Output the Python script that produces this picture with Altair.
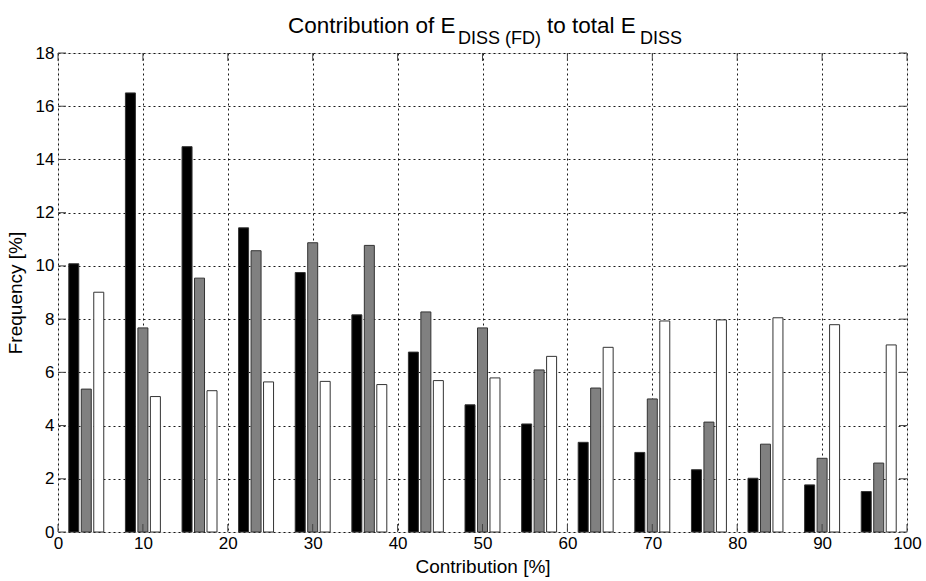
import altair as alt
import pandas as pd

# ---- data ----
bin_centers = [3.33, 10.0, 16.67, 23.33, 30.0, 36.67, 43.33, 50.0, 56.67,
               63.33, 70.0, 76.67, 83.33, 90.0, 96.67]
series_names = ["Series 1", "Series 2", "Series 3"]
s1 = [10.08, 16.5, 14.48, 11.43, 9.75, 8.16, 6.76, 4.78, 4.06, 3.37, 2.99, 2.34, 2.02, 1.77, 1.52]
s2 = [5.37, 7.67, 9.54, 10.57, 10.87, 10.77, 8.27, 7.67, 6.09, 5.41, 5.0, 4.13, 3.3, 2.77, 2.59]
s3 = [9.01, 5.09, 5.31, 5.64, 5.66, 5.54, 5.69, 5.79, 6.6, 6.94, 7.93, 7.97, 8.05, 7.79, 7.03]
x_ticks = [0, 10, 20, 30, 40, 50, 60, 70, 80, 90, 100]
y_ticks = [0, 2, 4, 6, 8, 10, 12, 14, 16, 18]

rows = []
for i, c in enumerate(bin_centers):
    for k, (name, vals) in enumerate(zip(series_names, [s1, s2, s3])):
        rows.append({"center": c, "series": name, "k": k, "value": vals[i]})
df = pd.DataFrame(rows)
xt = pd.DataFrame({"t": x_ticks})
yt = pd.DataFrame({"t": y_ticks})

FONT = "Liberation Sans"
W, H = 849, 479

xscale = alt.Scale(domain=[0, 100], nice=False, zero=False, padding=0)
yscale = alt.Scale(domain=[0, 18], nice=False, padding=0)

grid_axis = dict(grid=True, gridColor="#000000", gridDash=[2, 3], gridWidth=1,
                 gridOpacity=0.9, domain=False, ticks=False, labelFlush=False,
                 labelOverlap=False,
                 labelFont=FONT, labelFontSize=17, labelColor="#000000",
                 titleFont=FONT, titleFontSize=19, titleFontWeight="normal",
                 titleColor="#000000")

bars = alt.Chart(df).transform_calculate(
    xpos="datum.center + (datum.k - 1) * 1.47"
).mark_bar(size=10, stroke="#333333", strokeWidth=1).encode(
    x=alt.X("xpos:Q", scale=xscale,
            axis=alt.Axis(values=x_ticks, title="Contribution [%]", labelPadding=3,
                          titlePadding=6, **grid_axis)),
    y=alt.Y("value:Q", scale=yscale,
            axis=alt.Axis(values=y_ticks, title="Frequency [%]", labelPadding=4,
                          titlePadding=10, **grid_axis)),
    fill=alt.Fill("series:N", scale=alt.Scale(domain=series_names,
                                              range=["#000000", "#808080", "#ffffff"]),
                  legend=None),
)

tick_style = dict(color="#444444", strokeWidth=1)
xt_bottom = alt.Chart(xt).mark_rule(**tick_style).encode(
    x=alt.X("t:Q", scale=xscale), y=alt.value(H), y2=alt.value(H - 8))
xt_top = alt.Chart(xt).mark_rule(**tick_style).encode(
    x=alt.X("t:Q", scale=xscale), y=alt.value(0), y2=alt.value(8))
yt_left = alt.Chart(yt).mark_rule(**tick_style).encode(
    y=alt.Y("t:Q", scale=yscale), x=alt.value(0), x2=alt.value(8))
yt_right = alt.Chart(yt).mark_rule(**tick_style).encode(
    y=alt.Y("t:Q", scale=yscale), x=alt.value(W), x2=alt.value(W - 8))

# title with subscripts
def txt(s, x, y, size):
    return alt.Chart(pd.DataFrame({"s": [s]})).mark_text(
        align="left", baseline="alphabetic", font=FONT, fontSize=size, color="#000000"
    ).encode(text="s:N", x=alt.value(x), y=alt.value(y))

title = (txt("Contribution of E", 230, -20, 22.5) + txt("DISS (FD)", 400, -9, 18)
         + txt("to total E", 489, -20, 22.5) + txt("DISS", 582, -9, 18))

chart = alt.layer(bars, xt_bottom, xt_top, yt_left, yt_right, title).properties(
    width=W, height=H,
    autosize=alt.AutoSizeParams(type="none"),
    padding={"left": 58, "top": 53, "right": 19, "bottom": 48},
).configure_view(stroke="#444444", strokeWidth=1).configure(background="#ffffff")

chart.save("out.html", embed_options={"renderer": "svg", "actions": False})
